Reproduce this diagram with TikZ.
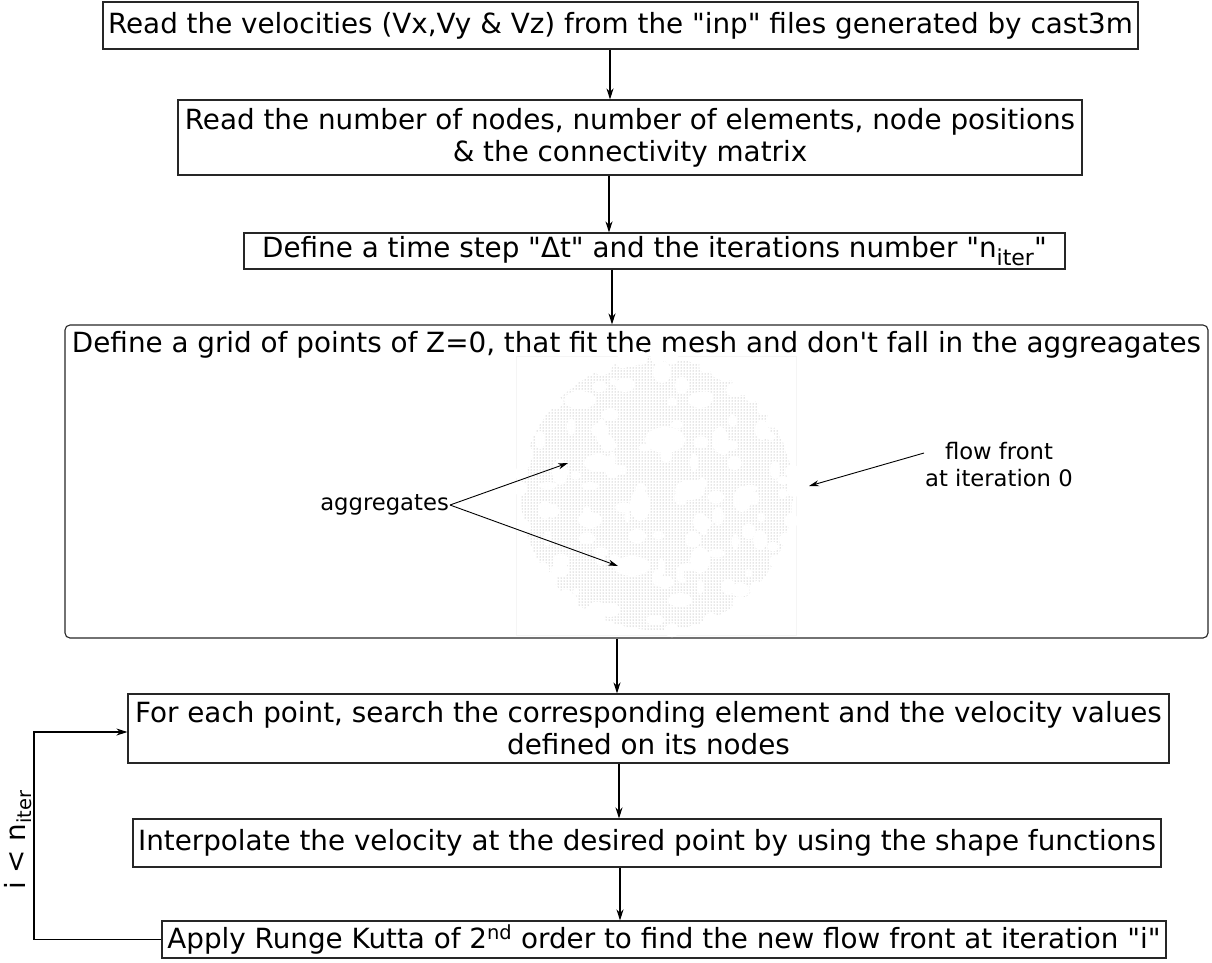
\documentclass[tikz,border=0pt]{standalone}
\usepackage{fontspec}
\setmainfont{DejaVu Sans}[Ligatures=TeXOff]
\usetikzlibrary{arrows.meta,patterns,calc}
\newcommand\btxt{\fontsize{27.8}{32}\selectfont}
\newcommand\ltxt{\fontsize{22.7}{27}\selectfont}
\newcommand\subtxt[1]{\raisebox{-0.28em}{\fontsize{22}{22}\selectfont #1}}
\begin{document}
\begin{tikzpicture}[x=1pt,y=-1pt,
  box/.style={draw=black!85,line width=1.1pt,inner sep=0pt,align=center,font=\btxt},
  arr/.style={-{Stealth[length=11pt,width=7pt]},line width=1.1pt},
  thinarr/.style={-{Stealth[length=10pt,width=6pt]},line width=0.9pt},
  lbl/.style={font=\ltxt,align=center,inner sep=1pt}]
\useasboundingbox (0,0) rectangle (1212,962);

% boxes
\node[box,minimum width=1035pt,minimum height=47pt] (b1) at (620.5,25.5)
  {Read the velocities (Vx,Vy \& Vz) from the "inp" files generated by cast3m};
\node[box,minimum width=904pt,minimum height=75pt] (b2) at (630,137.5)
  {Read the number of nodes, number of elements, node positions\\ \& the connectivity matrix};
\node[box,minimum width=821pt,minimum height=36pt] (b3) at (654.5,251)
  {Define a time step "Δt" and the iterations number "n\subtxt{iter}"};
\node[box,rounded corners=5pt,minimum width=1143pt,minimum height=313pt] (b4) at (636.5,481.5) {};
\node[font=\btxt,anchor=base,inner sep=0pt] (t4) at (636.5,352)
  {Define a grid of points of Z=0, that fit the mesh and don't fall in the aggreagates};
\node[box,minimum width=1041pt,minimum height=69pt] (b5) at (648.5,728.5)
  {For each point, search the corresponding element and the velocity values\\ defined on its nodes};
\node[box,minimum width=1028pt,minimum height=48pt] (b6) at (647,843)
  {Interpolate the velocity at the desired point by using the shape functions};
\node[box,minimum width=1004pt,minimum height=37pt] (b7) at (664,939.5)
  {Apply Runge Kutta of 2\textsuperscript{nd} order to find the new flow front at iteration "i"};

% point cloud image
\draw[gray!8,line width=0.8pt] (516,356) rectangle (796,635);
\fill[pattern=dots,pattern color=gray!85] (657,494) circle (136);
\foreach \x/\y/\a/\b in {
  580/400/16/9, 625/385/10/7, 662/372/9/11, 700/400/12/8, 735/390/9/7,
  665/440/20/13, 598/463/14/9, 560/472/8/13, 720/440/8/13, 762/430/7/10,
  640/505/10/16, 690/490/15/10, 742/500/9/12, 590/520/12/8, 545/510/7/9,
  632/566/18/10, 700/560/10/13, 760/540/7/10, 560/570/9/7, 680/600/12/7,
  610/610/10/7, 740/590/9/7, 600/430/9/7, 700/522/7/9, 620/470/7/5,
  540/440/5/9, 775/470/5/9, 655/620/9/5, 595/362/10/5, 720/366/9/5}
  \fill[white] (\x,\y) ellipse [x radius=\a, y radius=\b];
\pgfmathsetseed{42}
\foreach \i in {1,...,70}{
  \pgfmathsetmacro\ang{360*rnd}
  \pgfmathsetmacro\rad{128*sqrt(rnd)}
  \pgfmathsetmacro\ra{3+6*rnd}
  \pgfmathsetmacro\rb{3+6*rnd}
  \fill[white] ($(657,494)+(\ang:\rad)$) ellipse [x radius=\ra, y radius=\rb];
}
\foreach \i in {1,...,40}{
  \pgfmathsetmacro\ang{360*rnd}
  \fill[white] ($(657,494)+(\ang:137)$) ellipse [x radius=7, y radius=7];
}

% labels in the grid box
\node[lbl,anchor=east] (agg) at (450,505) {aggregates};
\coordinate (aggA) at (568,463);
\coordinate (aggB) at (618,566);
\draw[thinarr] (agg.east) -- (aggA);
\draw[thinarr] (agg.east) -- (aggB);
\node[lbl] (ff) at (999,465) {flow front\\at iteration 0};
\coordinate (ffA) at (809,486);
\draw[thinarr] ($(ff.west)+(0,-12)$) -- (ffA);

% main arrows
\coordinate (x1) at (610,0);
\coordinate (x2) at (609,0);
\coordinate (x3) at (612,0);
\coordinate (x4) at (617,0);
\coordinate (x5) at (619,0);
\coordinate (x6) at (620,0);
\draw[arr] (x1 |- b1.south) -- (x1 |- b2.north);
\draw[arr] (x2 |- b2.south) -- (x2 |- b3.north);
\draw[arr] (x3 |- b3.south) -- (x3 |- b4.north);
\draw[arr] (x4 |- b4.south) -- (x4 |- b5.north);
\draw[arr] (x5 |- b5.south) -- (x5 |- b6.north);
\draw[arr] (x6 |- b6.south) -- (x6 |- b7.north);

% loop back
\coordinate (lp1) at (34,940);
\coordinate (lp2) at (34,732);
\draw[arr] (b7.west) -- (b7.west -| lp1) -- (lp2) -- (lp2 -| b5.west);
\node[font=\btxt,rotate=90,inner sep=0pt] (cond) at (18,840) {i < n\textsubscript{iter}};
\end{tikzpicture}
\end{document}
